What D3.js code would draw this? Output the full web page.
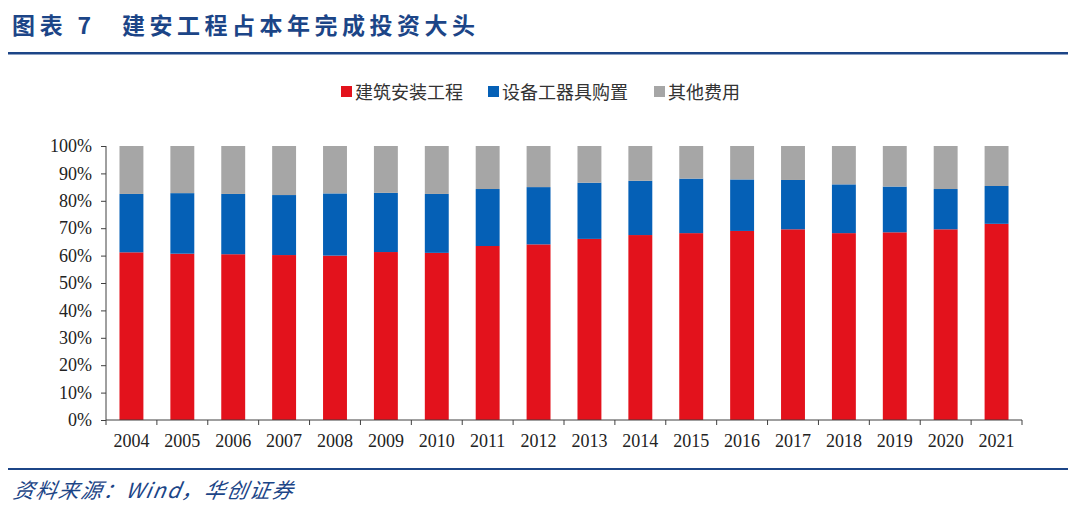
<!DOCTYPE html>
<html>
<head>
<meta charset="utf-8">
<script src="https://cdn.jsdelivr.net/npm/d3@7"></script>
<style>
  body { margin: 0; background: #fff; }
  svg { display: block; }
</style>
</head>
<body>
<div id="chart"></div>
<script>
// data (shares in %)
var years = ["2004","2005","2006","2007","2008","2009","2010","2011","2012","2013","2014","2015","2016","2017","2018","2019","2020","2021"];
var construction = [61.2, 60.7, 60.5, 60.2, 60.0, 61.3, 61.0, 63.5, 64.1, 66.1, 67.5, 68.2, 69.0, 69.6, 68.2, 68.5, 69.6, 71.6];
var equipment    = [21.3, 22.1, 22.0, 21.9, 22.7, 21.6, 21.5, 20.8, 20.9, 20.5, 19.8, 19.9, 18.8, 18.0, 17.8, 16.7, 14.7, 13.8];
var other        = [17.5, 17.2, 17.5, 17.9, 17.3, 17.1, 17.5, 15.7, 15.0, 13.4, 12.7, 11.9, 12.2, 12.4, 14.0, 14.8, 15.7, 14.6];
var seriesNames = ["建筑安装工程", "设备工器具购置", "其他费用"];
var colors = ["#e3121c", "#0560b6", "#a6a6a6"];
var yTicks = [0, 10, 20, 30, 40, 50, 60, 70, 80, 90, 100];

var svgWidth = 1080, svgHeight = 519;
var margin = { top: 146, bottom: 99, left: 106, right: 58 };
var width = svgWidth - margin.left - margin.right;
var height = svgHeight - margin.top - margin.bottom;

var svg = d3.select("#chart").append("svg")
  .attr("width", svgWidth)
  .attr("height", svgHeight);

var navy = "#1c4587";
var serif = "'Liberation Serif', 'Times New Roman', serif";
var cjk = "'Noto Sans CJK SC', sans-serif";

// title + rules
svg.append("text")
  .attr("x", 12).attr("y", 34)
  .attr("fill", navy)
  .attr("font-family", cjk)
  .attr("font-weight", "bold")
  .attr("font-size", "23px")
  .attr("letter-spacing", "4.8px")
  .attr("xml:space", "preserve")
  .text("图表 7");
svg.append("text")
  .attr("x", 122).attr("y", 34)
  .attr("fill", navy)
  .attr("font-family", cjk)
  .attr("font-weight", "bold")
  .attr("font-size", "23px")
  .attr("letter-spacing", "4.5px")
  .text("建安工程占本年完成投资大头");

svg.append("rect").attr("x", 8).attr("y", 52).attr("width", 1060).attr("height", 2.5).attr("fill", navy);
svg.append("rect").attr("x", 8).attr("y", 468).attr("width", 1060).attr("height", 2).attr("fill", navy);

svg.append("text")
  .attr("x", 12).attr("y", 498)
  .attr("fill", navy)
  .attr("font-family", cjk)
  .attr("font-style", "italic")
  .attr("font-size", "21px")
  .attr("letter-spacing", "1.5px")
  .attr("transform", "skewX(-10) translate(88,0)")
  .text("资料来源：Wind，华创证券");

// legend
var legendX = [341, 488, 654];
var legend = svg.append("g");
seriesNames.forEach(function(name, i) {
  legend.append("rect")
    .attr("x", legendX[i]).attr("y", 86)
    .attr("width", 11).attr("height", 11)
    .attr("fill", colors[i]);
  legend.append("text")
    .attr("x", legendX[i] + 14).attr("y", 98.5)
    .attr("font-family", cjk)
    .attr("font-size", "18px")
    .attr("fill", "#333")
    .text(name);
});

var chartGroup = svg.append("g")
  .attr("transform", `translate(${margin.left}, ${margin.top})`);

var xScale = d3.scaleBand()
  .domain(years)
  .range([0, width])
  .paddingInner(0.53)
  .paddingOuter(0.265);

var yScale = d3.scaleLinear()
  .domain([0, 100])
  .range([height, 0]);

var table = years.map(function(y, i) {
  return { year: y, a: construction[i], b: equipment[i], c: other[i] };
});
var stack = d3.stack().keys(["a", "b", "c"]);
var layers = stack(table);

chartGroup.selectAll(".layer")
  .data(layers)
  .enter()
  .append("g")
  .attr("fill", (d, i) => colors[i])
  .selectAll("rect")
  .data(d => d)
  .enter()
  .append("rect")
  .attr("x", d => xScale(d.data.year))
  .attr("width", xScale.bandwidth())
  .attr("y", d => yScale(Math.min(d[1], 100)))
  .attr("height", d => yScale(d[0]) - yScale(Math.min(d[1], 100)));

// axes
var yAxis = d3.axisLeft(yScale)
  .tickValues(yTicks)
  .tickFormat(d => d + "%")
  .tickSize(5);

var xTickPos = d3.range(years.length + 1).map(i => i * width / years.length);

var yG = chartGroup.append("g").call(yAxis);
yG.select(".domain").attr("stroke", "#404040").attr("d", `M0,${height}V0`);
yG.selectAll(".tick line").attr("stroke", "#404040");
yG.selectAll("text")
  .attr("font-family", serif)
  .attr("font-size", "18px")
  .attr("fill", "#222")
  .attr("x", -14);

var xG = chartGroup.append("g").attr("transform", `translate(0, ${height})`);
xG.append("line")
  .attr("x1", 0).attr("x2", width)
  .attr("stroke", "#404040");
xG.selectAll(".xtick")
  .data(xTickPos)
  .enter()
  .append("line")
  .attr("x1", d => d).attr("x2", d => d)
  .attr("y1", 0).attr("y2", 5)
  .attr("stroke", "#404040");
xG.selectAll(".xlabel")
  .data(years)
  .enter()
  .append("text")
  .attr("x", d => xScale(d) + xScale.bandwidth() / 2)
  .attr("y", 27)
  .attr("text-anchor", "middle")
  .attr("font-family", serif)
  .attr("font-size", "18px")
  .attr("fill", "#222")
  .text(d => d);
</script>
</body>
</html>
